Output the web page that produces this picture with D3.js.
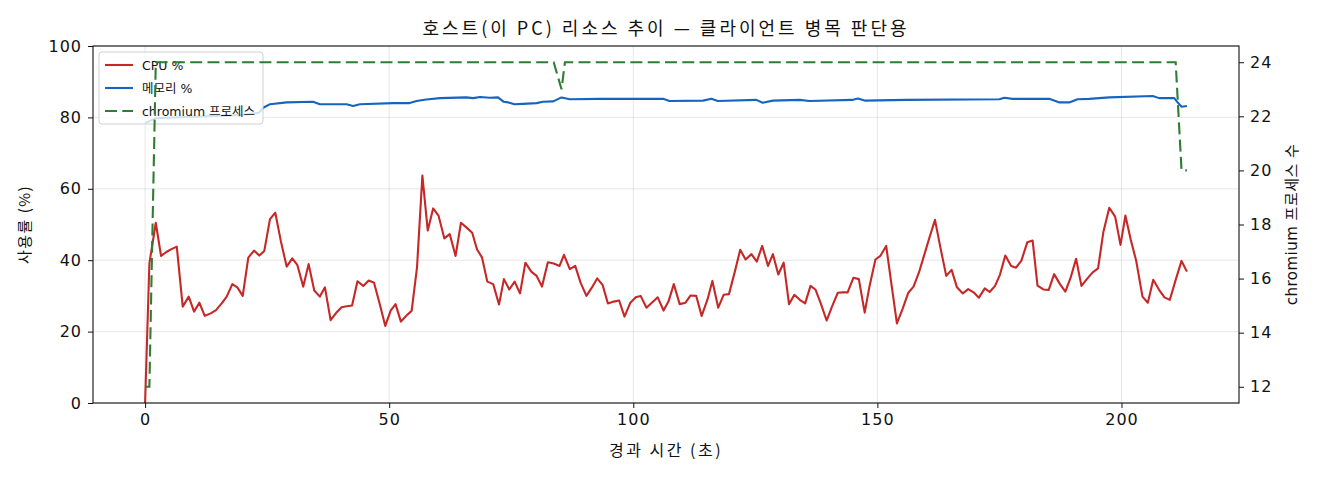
<!DOCTYPE html>
<html>
<head>
<meta charset="utf-8">
<script src="https://cdn.jsdelivr.net/npm/d3@7"></script>
<style>
body { margin: 0; background: #fff; }
svg text { font-family: "DejaVu Sans", "Noto Sans CJK KR", sans-serif; fill: #111; }
.kr { font-family: "Noto Sans CJK KR", sans-serif; }
</style>
</head>
<body>
<svg id="chart" width="1320" height="480"></svg>
<script>
// [elapsed s, CPU %]
var cpuSeries = [
	[0,0],[0.88,39.1],[2.19,50.5],[3.27,41.2],[4.35,42.3],[5.4,43.1],[6.49,43.8],[7.71,27.0],[8.94,29.8],
	[10.03,25.6],[11.11,28.1],[12.22,24.4],[13.44,25.1],[14.53,26.0],[15.69,27.9],[16.72,29.8],[17.87,33.3],
	[18.89,32.4],[20.0,30.0],[21.14,40.7],[22.31,42.7],[23.39,41.3],[24.42,42.6],[25.58,51.5],[26.67,53.3],
	[27.83,45.2],[29.0,38.2],[30.15,40.5],[31.17,38.7],[32.4,32.6],[33.5,38.9],[34.65,31.5],[35.8,29.8],
	[36.84,32.4],[38.0,23.2],[39.1,25.2],[40.25,26.8],[41.3,27.1],[42.4,27.3],[43.5,34.1],[44.7,32.8],
	[45.8,34.3],[46.9,33.7],[48.1,27.5],[49.2,21.6],[50.3,25.9],[51.3,27.7],[52.4,22.8],[53.6,24.6],
	[54.6,25.8],[55.7,38.0],[56.8,63.7],[57.9,48.3],[59.0,54.5],[60.1,52.5],[61.3,46.1],[62.4,47.3],
	[63.6,41.2],[64.7,50.5],[65.8,49.2],[67.0,47.7],[68.0,43.0],[69.0,40.8],[70.1,34.0],[71.3,33.3],
	[72.5,27.6],[73.5,34.7],[74.6,31.8],[75.7,34.0],[76.8,30.7],[77.9,39.3],[79.1,36.8],[80.2,35.6],
	[81.3,32.6],[82.5,39.4],[83.7,39.1],[84.9,38.4],[85.8,41.5],[87.0,37.5],[88.1,38.4],[89.2,33.7],
	[90.4,30.0],[91.5,32.3],[92.6,34.9],[93.7,33.1],[94.8,27.9],[96.0,28.4],[97.1,28.7],[98.2,24.2],
	[99.4,28.1],[100.5,29.6],[101.5,30.0],[102.7,26.7],[103.8,28.1],[105.0,29.6],[106.2,25.9],[107.2,28.4],
	[108.3,33.3],[109.5,27.7],[110.7,28.1],[111.7,30.1],[112.9,30.0],[114.0,24.4],[115.2,29.0],[116.2,34.2],
	[117.4,26.7],[118.5,30.3],[119.6,30.5],[120.8,36.8],[121.9,42.9],[123.0,40.2],[124.2,41.7],[125.3,39.6],
	[126.4,44.0],[127.6,38.4],[128.6,41.7],[129.7,36.0],[130.8,39.3],[131.9,27.7],[133.0,30.3],[134.1,28.9],
	[135.2,27.9],[136.3,32.8],[137.3,31.8],[138.4,27.9],[139.6,23.1],[140.7,27.0],[141.9,30.9],[142.9,31.0],
	[143.9,31.0],[145.1,35.1],[146.2,34.7],[147.4,25.3],[148.4,32.8],[149.6,40.2],[150.6,41.2],[151.8,44.0],
	[152.9,33.1],[154.0,22.3],[155.2,26.5],[156.3,30.8],[157.4,32.6],[158.5,36.5],[159.6,41.5],[160.7,46.5],
	[161.8,51.3],[162.9,43.6],[164.1,35.6],[165.2,37.3],[166.3,32.4],[167.5,30.7],[168.6,31.9],[169.7,31.0],
	[170.8,29.5],[172.0,32.1],[173.0,31.1],[174.1,32.8],[175.1,35.9],[176.2,41.3],[177.4,38.4],[178.4,37.9],
	[179.5,39.9],[180.7,45.0],[181.8,45.5],[182.8,32.9],[184.0,31.8],[185.1,31.7],[186.2,36.1],[187.4,33.3],
	[188.5,31.2],[189.6,35.2],[190.7,40.4],[191.8,32.8],[192.9,34.7],[194.1,36.6],[195.2,37.7],[196.3,48.0],
	[197.5,54.7],[198.7,52.2],[199.8,44.3],[200.8,52.5],[201.9,45.7],[203.0,39.9],[204.3,29.8],[205.4,28.1],
	[206.5,34.5],[207.7,31.7],[208.8,29.6],[209.9,28.9],[211.1,34.5],[212.3,39.8],[213.4,36.8]
];

// [elapsed s, memory %]
var memSeries = [
	[0,78.4],[2.2,79.8],[10,80.2],[20,80.7],[23.3,81.3],[24.2,82.7],[25.6,83.7],[29.0,84.2],[34.4,84.4],
	[35.8,83.7],[41.3,83.7],[42.6,83.2],[44.0,83.7],[50.8,84.0],[54.2,84.0],[55.6,84.6],[57.6,85.0],
	[60.4,85.4],[65.8,85.6],[67.2,85.4],[68.6,85.7],[70.6,85.5],[72.3,85.6],[73.4,84.4],[74.4,84.2],
	[75.7,83.7],[77.4,83.8],[80.2,84.0],[81.5,84.4],[83.6,84.5],[85.3,85.6],[87.0,85.1],[93.1,85.2],
	[106.1,85.2],[107.4,84.6],[114.3,84.7],[116.0,85.2],[117.3,84.6],[125.2,84.9],[126.5,84.1],[128.6,84.7],
	[134.1,84.9],[136.1,84.6],[144.8,84.9],[146.0,85.3],[147.4,84.7],[155.9,84.9],[175.0,85.1],[176.0,85.5],
	[177.7,85.2],[185.2,85.2],[187.3,84.2],[189.3,84.2],[191.0,85.1],[193.4,85.2],[197.5,85.6],[206.4,86.0],
	[207.7,85.4],[210.8,85.4],[211.5,84.2],[212.3,83.0],[213.4,83.2]
];

// [elapsed s, chromium process count]
var procSeries = [
	[0,12],[0.88,12],[2.19,24],[83.7,24],[85.3,23],[86.0,24],[211.1,24],[212.3,20],[213.4,20]
];

var seriesNames = ["CPU %", "메모리 %", "chromium 프로세스"];
var seriesColors = ["#c62828", "#1565c0", "#2e7d32"];
var timeTicks = [0, 50, 100, 150, 200];
var pctTicks = [0, 20, 40, 60, 80, 100];
var procTicks = [12, 14, 16, 18, 20, 22, 24];

var L = 93, R = 1239, T = 46, B = 403;
var svg = d3.select("#chart");

// matplotlib style 5% margins
var tMax = d3.max(cpuSeries, function(d) { return d[0]; });
var x = d3.scaleLinear().domain([-0.05 * tMax, 1.05 * tMax]).range([L, R]);
var y = d3.scaleLinear().domain([0, 100]).range([B, T]);
var y2 = d3.scaleLinear().domain([11.4, 24.6]).range([B, T]);

// grid
var grid = svg.append("g").attr("stroke", "#b0b0b0").attr("stroke-opacity", 0.3).attr("stroke-width", 1);
timeTicks.forEach(function(t) {
	grid.append("line").attr("x1", x(t)).attr("x2", x(t)).attr("y1", T).attr("y2", B);
});
pctTicks.forEach(function(p) {
	grid.append("line").attr("x1", L).attr("x2", R).attr("y1", y(p)).attr("y2", y(p));
});

var line = function(sc) {
	return d3.line().x(function(d) { return x(d[0]); }).y(function(d) { return sc(d[1]); });
};

svg.append("path").datum(cpuSeries)
	.attr("d", line(y)).attr("fill", "none")
	.attr("stroke", seriesColors[0]).attr("stroke-width", 2.1).attr("stroke-linejoin", "round");
svg.append("path").datum(memSeries)
	.attr("d", line(y)).attr("fill", "none")
	.attr("stroke", seriesColors[1]).attr("stroke-width", 2.1).attr("stroke-linejoin", "round");

// legend (sits under the twin axis line)
var lg = svg.append("g");
lg.append("rect").attr("x", 99).attr("y", 52).attr("width", 164).attr("height", 72).attr("rx", 3)
	.attr("fill", "#fff").attr("fill-opacity", 0.8).attr("stroke", "#d0d0d0");
seriesNames.forEach(function(name, i) {
	var yy = 65 + i * 23;
	lg.append("line").attr("x1", 105).attr("x2", 133).attr("y1", yy).attr("y2", yy)
		.attr("stroke", seriesColors[i]).attr("stroke-width", 2.1)
		.attr("stroke-dasharray", i == 2 ? "12,5.3" : null);
	lg.append("text").attr("x", 142).attr("y", yy + 4.5).attr("font-size", 12.5).text(name);
});

svg.append("path").datum(procSeries)
	.attr("d", line(y2)).attr("fill", "none")
	.attr("stroke", seriesColors[2]).attr("stroke-width", 2.1).attr("stroke-dasharray", "12,5.3");

// axes
var xAxis = svg.append("g").attr("transform", "translate(0," + B + ")")
	.call(d3.axisBottom(x).tickValues(timeTicks).tickSize(5).tickPadding(6).tickSizeOuter(0));
var yAxis = svg.append("g").attr("transform", "translate(" + L + ",0)")
	.call(d3.axisLeft(y).tickValues(pctTicks).tickSize(5).tickPadding(6).tickSizeOuter(0));
var y2Axis = svg.append("g").attr("transform", "translate(" + R + ",0)")
	.call(d3.axisRight(y2).tickValues(procTicks).tickSize(5).tickPadding(6).tickSizeOuter(0));
[xAxis, yAxis, y2Axis].forEach(function(a) {
	a.select(".domain").remove();
	a.selectAll("text").attr("font-size", 16).attr("letter-spacing", 1)
		.attr("font-family", null).attr("fill", "#111");
	a.selectAll("line").attr("stroke", "#111");
});

svg.append("rect").attr("x", L).attr("y", T).attr("width", R - L).attr("height", B - T)
	.attr("fill", "none").attr("stroke", "#111").attr("stroke-width", 1.1);

// titles
svg.append("text").attr("class", "kr").attr("x", (L + R) / 2).attr("y", 35)
	.attr("text-anchor", "middle").attr("font-size", 18).attr("letter-spacing", 3)
	.text("호스트(이 PC) 리소스 추이 — 클라이언트 병목 판단용");
svg.append("text").attr("class", "kr").attr("x", (L + R) / 2).attr("y", 456)
	.attr("text-anchor", "middle").attr("font-size", 16).attr("letter-spacing", 2.5)
	.text("경과 시간 (초)");
svg.append("text").attr("class", "kr").attr("transform", "translate(30," + (T + B) / 2 + ") rotate(-90)")
	.attr("text-anchor", "middle").attr("font-size", 15).attr("letter-spacing", 1.5)
	.text("사용률 (%)");
svg.append("text").attr("transform", "translate(1297," + (T + B) / 2 + ") rotate(-90)")
	.attr("text-anchor", "middle").attr("font-size", 15).attr("letter-spacing", 0.5)
	.text("chromium 프로세스 수");
</script>
</body>
</html>
